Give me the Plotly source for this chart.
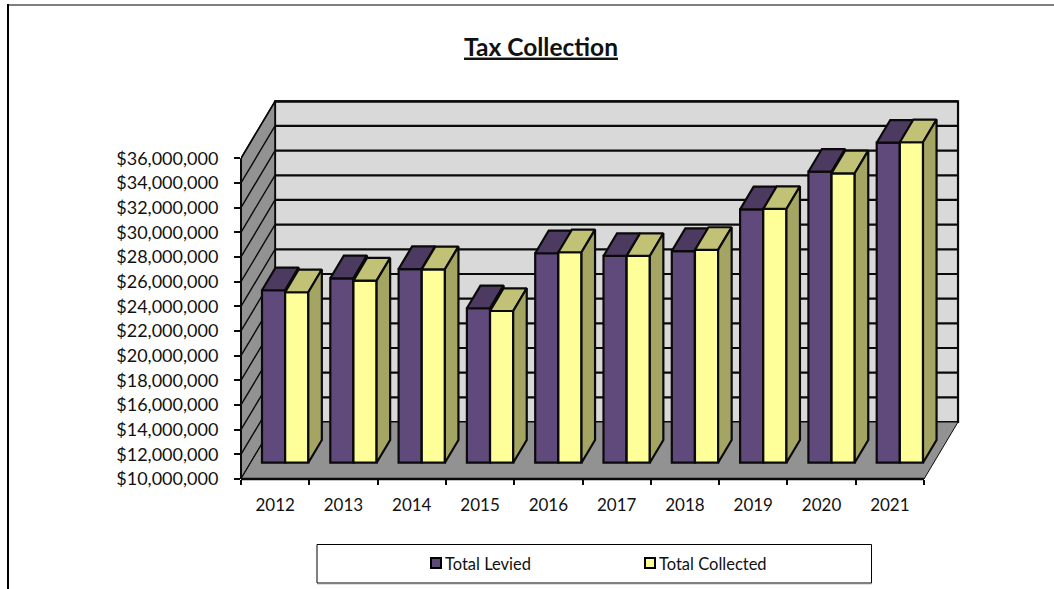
import plotly.graph_objects as go

# Tax collection by fiscal year, in dollars
years = [2012, 2013, 2014, 2015, 2016, 2017, 2018, 2019, 2020, 2021]
total_levied = [23980000, 24950000, 25700000, 22520000, 26980000,
                26760000, 27160000, 30540000, 33590000, 35940000]
total_collected = [23820000, 24760000, 25680000, 22300000, 27060000,
                   26760000, 27250000, 30570000, 33460000, 35980000]

AXIS_MIN = 10000000
AXIS_MAX = 36000000
AXIS_STEP = 2000000
levels = list(range(AXIS_MIN, AXIS_MAX + 1, AXIS_STEP))
slots = list(range(len(years) + 1))

# Oblique projection: how far the back of the box sits from the front plane
DEPTH_X = 0.498            # in category widths
DEPTH_V = 4620000          # in dollars
BAR_FRONT = 0.286          # depth fraction of the bars' front faces
BAR_BACK = 0.684           # depth fraction of the bars' back faces
GAP = 0.165                # gap before the first bar of a category
BAR_W = 0.339              # width of one bar

EDGE = "#0a0a0a"
WALL = "#d9d9d9"
SHADE = "#929292"
LEVIED = "#604a7b"
COLLECTED = "#ffff99"

# The plotting area reaches past the front axes so the whole box fits inside it
X_MAX = 10.6
Y_MAX = 41130000


def project(x, v, d):
    return x + d * DEPTH_X, v + d * DEPTH_V


def polygons(corner_lists):
    """Join (x, value, depth) corner lists into one None-separated closed path."""
    xs, ys = [], []
    for corners in corner_lists:
        pts = [project(*c) for c in corners]
        pts.append(pts[0])
        xs += [p[0] for p in pts] + [None]
        ys += [p[1] for p in pts] + [None]
    return xs, ys


def segments(pairs):
    xs, ys = [], []
    for a, b in pairs:
        pa, pb = project(*a), project(*b)
        xs += [pa[0], pb[0], None]
        ys += [pa[1], pb[1], None]
    return xs, ys


def face(corner_lists, fill, z, width=2.2):
    xs, ys = polygons(corner_lists)
    return go.Scatter(x=xs, y=ys, mode="lines", fill="toself", fillcolor=fill,
                      line=dict(color=EDGE, width=width, shape="linear"),
                      showlegend=False, hoverinfo="skip", zorder=z)


fig = go.Figure()

# Box: back wall, left wall, floor and the grid running across the walls
n = len(years)
fig.add_trace(face([[(0, AXIS_MIN, 1), (n, AXIS_MIN, 1), (n, AXIS_MAX, 1), (0, AXIS_MAX, 1)]],
                   WALL, -3))
fig.add_trace(face([[(0, AXIS_MIN, 0), (0, AXIS_MIN, 1), (0, AXIS_MAX, 1), (0, AXIS_MAX, 0)]],
                   SHADE, -3, width=1.6))
grid_x, grid_y = segments([((0, v, 1), (n, v, 1)) for v in levels])
fig.add_trace(go.Scatter(x=grid_x, y=grid_y, mode="lines",
                         line=dict(color=EDGE, width=2.2), showlegend=False,
                         hoverinfo="skip", zorder=-3))
side_x, side_y = segments([((0, v, 0), (0, v, 1)) for v in levels])
fig.add_trace(go.Scatter(x=side_x, y=side_y, mode="lines",
                         line=dict(color=EDGE, width=1.4), showlegend=False,
                         hoverinfo="skip", zorder=-3))
fig.add_trace(face([[(0, AXIS_MIN, 0), (n, AXIS_MIN, 0), (n, AXIS_MIN, 1), (0, AXIS_MIN, 1)]],
                   SHADE, -2, width=1))


def add_series(name, values, start, front, top, side, z):
    left = GAP + BAR_FRONT * DEPTH_X + start
    base = AXIS_MIN + BAR_FRONT * DEPTH_V
    fig.add_trace(go.Bar(
        name=name, x=list(range(n)), y=[v - AXIS_MIN for v in values],
        base=base, width=BAR_W, offset=left,
        marker=dict(color=front, line=dict(color=EDGE, width=2.2)),
        hoverinfo="skip", zorder=z, showlegend=False,
    ))
    x0 = [i + GAP + start for i in range(n)]
    x1 = [x + BAR_W for x in x0]
    fig.add_trace(face(
        [[(x0[i], values[i], BAR_FRONT), (x1[i], values[i], BAR_FRONT),
          (x1[i], values[i], BAR_BACK), (x0[i], values[i], BAR_BACK)] for i in range(n)],
        top, z))
    fig.add_trace(face(
        [[(x1[i], AXIS_MIN, BAR_FRONT), (x1[i], AXIS_MIN, BAR_BACK),
          (x1[i], values[i], BAR_BACK), (x1[i], values[i], BAR_FRONT)] for i in range(n)],
        side, z))


add_series("Total Levied", total_levied, 0, LEVIED, "#4d3a60", "#4d3a60", 1)
add_series("Total Collected", total_collected, BAR_W, COLLECTED, "#c2c277", "#a5a563", 2)

PX_W, PX_H = 1054, 589
PLOT_L, PLOT_B = 241, 479
PLOT_R = 241 + 68.3 * X_MAX
PLOT_T = 479 - 12.335 * (Y_MAX - AXIS_MIN) / 1000000


def fx(px):
    return (px - PLOT_L) / (PLOT_R - PLOT_L)


def fy(py):
    return (PLOT_B - py) / (PLOT_B - PLOT_T)


front_right = n / X_MAX
front_top = (AXIS_MAX - AXIS_MIN) / (Y_MAX - AXIS_MIN)


def hline(x0, x1, y, color, width):
    return dict(type="line", xref="paper", yref="paper", x0=x0, x1=x1, y0=y, y1=y,
                line=dict(color=color, width=width))


def swatch(left, color):
    return dict(type="rect", xref="paper", yref="paper", x0=fx(left), x1=fx(left + 10),
                y0=fy(568), y1=fy(558), fillcolor=color,
                line=dict(color="#000000", width=2))


def key_label(text, left):
    return dict(text=text, xref="paper", yref="paper", x=fx(left), y=fy(563.5),
                xanchor="left", yanchor="middle", showarrow=False,
                font=dict(size=16.5), xshift=-2)


fig.update_layout(
    width=PX_W, height=PX_H,
    margin=dict(l=PLOT_L, r=PX_W - PLOT_R, t=PLOT_T, b=PX_H - PLOT_B),
    paper_bgcolor="white", plot_bgcolor="rgba(0,0,0,0)",
    font=dict(family="Lato, Carlito, Calibri, sans-serif", size=17, color="#111111"),
    barmode="overlay",
    showlegend=False,
    title=dict(
        text="Tax Collection", xref="container", yref="container",
        x=541 / PX_W, xanchor="center", y=1 - 47 / PX_H, yanchor="middle",
        font=dict(size=24.5, color="#111111", weight="bold", lineposition="under"),
    ),
    xaxis=dict(
        range=[0, X_MAX], tickmode="array",
        tickvals=[i + 0.5 for i in range(n)], ticktext=[str(y) for y in years],
        ticks="", ticklabelstandoff=14, showgrid=False, zeroline=False, showline=False,
        minor=dict(tickmode="array", tickvals=slots, ticks="outside", ticklen=5,
                   tickwidth=1.5, tickcolor=EDGE, showgrid=False),
    ),
    yaxis=dict(
        range=[AXIS_MIN, Y_MAX], tickmode="array", tickvals=levels,
        tickformat="$,.0f", tickfont=dict(size=18),
        ticks="outside", ticklen=6, tickwidth=1.5, tickcolor=EDGE, ticklabelstandoff=12,
        showgrid=False, zeroline=False, showline=False,
    ),
    annotations=[key_label("Total Levied", 445), key_label("Total Collected", 659)],
    shapes=[
        # Front edges of the box, along the two value and category axes
        hline(0, front_right, 0, EDGE, 2.5),
        dict(type="line", xref="paper", yref="paper", x0=0, x1=0, y0=0, y1=front_top,
             line=dict(color=EDGE, width=2)),
        # Chart frame
        hline(fx(8), fx(PX_W), fy(5), "#7f7f7f", 2),
        dict(type="line", xref="paper", yref="paper", x0=fx(8), x1=fx(8),
             y0=fy(4), y1=fy(PX_H), line=dict(color="#000000", width=2)),
        # Series key
        dict(type="rect", xref="paper", yref="paper", x0=fx(317), x1=fx(871.5),
             y0=fy(583), y1=fy(544.5), line=dict(color="#000000", width=1)),
        hline(fx(317), fx(871.5), fy(583.5), "#7f7f7f", 1.5),
        swatch(431, LEVIED),
        swatch(645, COLLECTED),
    ],
)

fig.write_html("out.html")
